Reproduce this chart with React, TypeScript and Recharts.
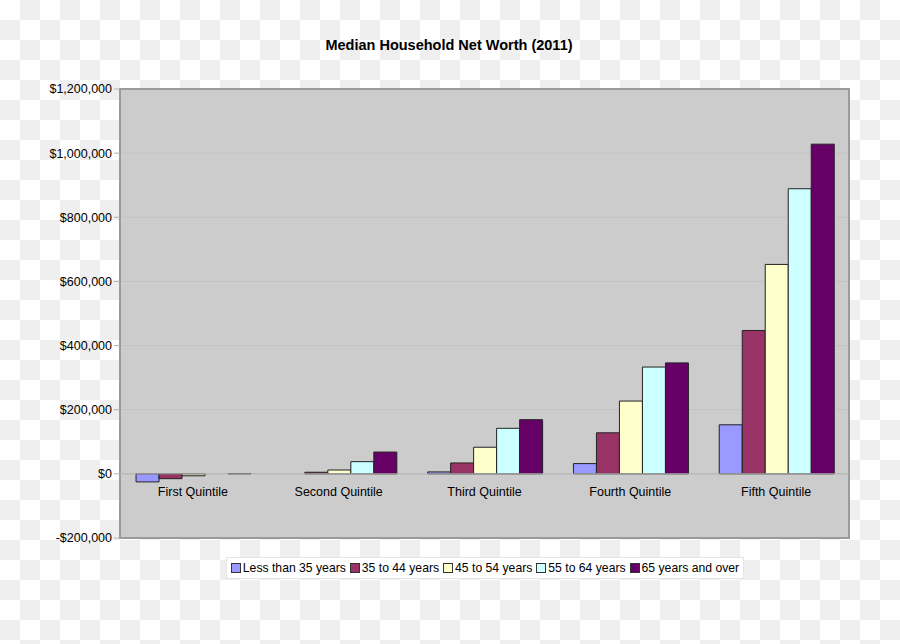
import {
  Bar,
  BarChart,
  CartesianGrid,
  Legend,
  ReferenceArea,
  ReferenceLine,
  XAxis,
  YAxis,
} from "recharts";

const quintiles = [
  "First Quintile",
  "Second Quintile",
  "Third Quintile",
  "Fourth Quintile",
  "Fifth Quintile",
];

const under35 = [-25000, 0, 6000, 32000, 153000];
const age35to44 = [-15000, 5000, 34000, 128000, 447000];
const age45to54 = [-6000, 12000, 83000, 227000, 653000];
const age55to64 = [0, 38000, 142000, 333000, 889000];
const age65plus = [1000, 68000, 169000, 346000, 1028000];

const yTicks = [-200000, 0, 200000, 400000, 600000, 800000, 1000000, 1200000];

const series = [
  { key: "under35", name: "Less than 35 years", color: "#9999ff", values: under35 },
  { key: "age35to44", name: "35 to 44 years", color: "#993366", values: age35to44 },
  { key: "age45to54", name: "45 to 54 years", color: "#ffffcc", values: age45to54 },
  { key: "age55to64", name: "55 to 64 years", color: "#ccffff", values: age55to64 },
  { key: "age65plus", name: "65 years and over", color: "#660066", values: age65plus },
];

const chartData = quintiles.map((q, i) => {
  const row: Record<string, string | number> = { quintile: q };
  series.forEach((s) => {
    row[s.key] = s.values[i];
  });
  return row;
});

const FONT = "'Liberation Sans', Arial, sans-serif";

const money = (v: number) =>
  (v < 0 ? "-$" : "$") + Math.abs(v).toLocaleString("en-US");

const LegendBox = () => (
  <div style={{ width: "100%", textAlign: "center" }}>
    <div
      style={{
        display: "inline-flex",
        alignItems: "center",
        gap: 4,
        background: "#ffffff",
        border: "1px solid #e4e4e4",
        padding: "3px 4px",
        fontFamily: FONT,
        fontSize: 12.2,
        color: "#000",
      }}
    >
      {series.map((s) => (
        <span key={s.key} style={{ display: "inline-flex", alignItems: "center" }}>
          <span
            style={{
              display: "inline-block",
              width: 8,
              height: 8,
              background: s.color,
              border: "1px solid #333",
              marginRight: 2,
            }}
          />
          {s.name}
        </span>
      ))}
    </div>
  </div>
);

export default function App() {
  return (
    <div
      style={{
        position: "absolute",
        left: 0,
        top: 0,
        width: 900,
        height: 644,
        background:
          "repeating-conic-gradient(#efefef 0% 25%, #ffffff 0% 50%) 0 0 / 40px 40px",
      }}
    >
      <div
        style={{
          position: "absolute",
          top: 37,
          left: 0,
          width: 898,
          textAlign: "center",
          fontFamily: FONT,
          fontWeight: "bold",
          fontSize: 14.5,
        }}
      >
        Median Household Net Worth (2011)
      </div>
      <BarChart
        width={900}
        height={644}
        data={chartData}
        margin={{ top: 89, right: 51, bottom: 65, left: 0 }}
        barCategoryGap="11%"
        barGap={0}
      >
        <CartesianGrid
          vertical={false}
          stroke="#c2c2c2"
          fill="#cccccc"
          fillOpacity={1}
        />
        <XAxis
          dataKey="quintile"
          height={19}
          axisLine={false}
          tickLine={false}
          interval={0}
          tick={{ fontFamily: FONT, fontSize: 12.5, fill: "#000", dy: -59 }}
        />
        <YAxis
          width={120}
          domain={[-200000, 1200000]}
          ticks={yTicks}
          tickFormatter={money}
          axisLine={false}
          tickSize={6}
          tickLine={{ stroke: "#b0b0b0" }}
          tick={{ fontFamily: FONT, fontSize: 12.5, fill: "#000" }}
        />
        <ReferenceLine y={0} stroke="#b4b4b4" />
        {series.map((s) => (
          <Bar
            key={s.key}
            dataKey={s.key}
            name={s.name}
            fill={s.color}
            stroke="#222"
            strokeWidth={1}
            isAnimationActive={false}
          />
        ))}
        <ReferenceArea
          y1={-200000}
          y2={1200000}
          fill="none"
          stroke="#9a9a9a"
          strokeWidth={2}
        />
        <Legend
          verticalAlign="bottom"
          height={22}
          wrapperStyle={{ left: 0, width: 970 }}
          content={<LegendBox />}
        />
      </BarChart>
    </div>
  );
}
